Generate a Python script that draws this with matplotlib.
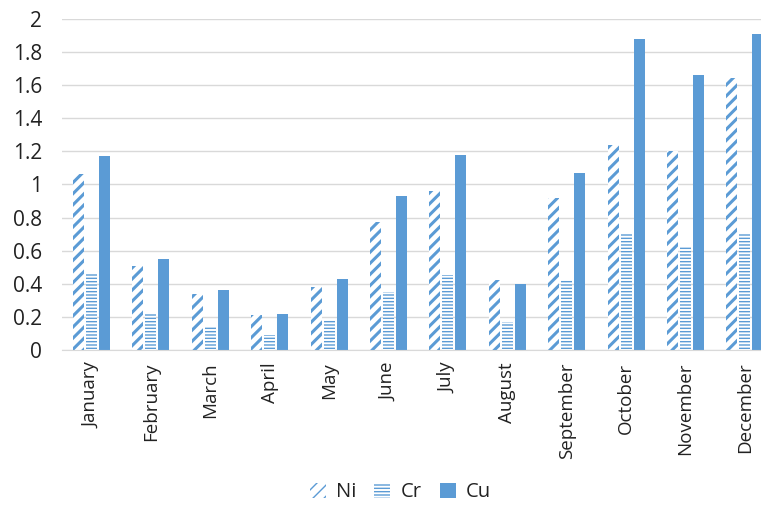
import matplotlib
matplotlib.use("Agg")
import matplotlib.pyplot as plt
import numpy as np

months = ["January", "February", "March", "April", "May", "June", "July",
          "August", "September", "October", "November", "December"]
ni = [1.06, 0.51, 0.34, 0.21, 0.38, 0.77, 0.96, 0.42, 0.92, 1.24, 1.20, 1.64]
cr = [0.46, 0.22, 0.14, 0.09, 0.18, 0.35, 0.45, 0.17, 0.42, 0.70, 0.63, 0.70]
cu = [1.17, 0.55, 0.36, 0.22, 0.43, 0.93, 1.18, 0.40, 1.07, 1.88, 1.66, 1.91]
yticks = [0, 0.2, 0.4, 0.6, 0.8, 1, 1.2, 1.4, 1.6, 1.8, 2]
ytick_labels = ["0", "0.2", "0.4", "0.6", "0.8", "1", "1.2", "1.4", "1.6", "1.8", "2"]

blue = "#5B9BD5"
text_color = "#222222"
plt.rcParams["font.family"] = ["Open Sans", "DejaVu Sans"]

fig = plt.figure(figsize=(7.61, 5.08), dpi=100)
ax = fig.add_axes([0.0812, 0.311, 0.9367, 0.652])

x = np.arange(len(months))
w = 0.185
step = 0.219

plt.rcParams["hatch.linewidth"] = 2.2
b1 = ax.bar(x - step, ni, w, facecolor="white", edgecolor=blue, linewidth=0,
            hatch="///", label="Ni", zorder=3)
plt.rcParams["hatch.linewidth"] = 1.0
b2 = ax.bar(x, cr, w, facecolor="white", edgecolor=blue, linewidth=0,
            hatch="-----", label="Cr", zorder=3)
b3 = ax.bar(x + step, cu, w, color=blue, linewidth=0, label="Cu", zorder=3)

ax.set_xlim(-0.5, len(months) - 0.5)
ax.set_ylim(0, 2)
ax.set_yticks(yticks)
ax.set_yticklabels(ytick_labels, fontsize=15)
ax.set_xticks(x)
ax.set_xticklabels(months, rotation=90, fontsize=13.5)
ax.tick_params(axis="both", length=0, colors=text_color)
ax.tick_params(axis="y", pad=14)
ax.tick_params(axis="x", pad=9)
ax.grid(axis="y", color="#D9D9D9", linewidth=1, zorder=0)
for s in ["top", "right", "left"]:
    ax.spines[s].set_visible(False)
ax.spines["bottom"].set_color("#D9D9D9")
ax.spines["bottom"].set_zorder(4)

leg = fig.legend(handles=[b1, b2, b3], loc="center", bbox_to_anchor=(0.526, 0.031),
                 ncol=3, frameon=False, fontsize=14.5, handlelength=0.8,
                 handleheight=0.8, columnspacing=0.9, handletextpad=0.5)
for t in leg.get_texts():
    t.set_color(text_color)

fig.savefig("out.png", dpi=100)
